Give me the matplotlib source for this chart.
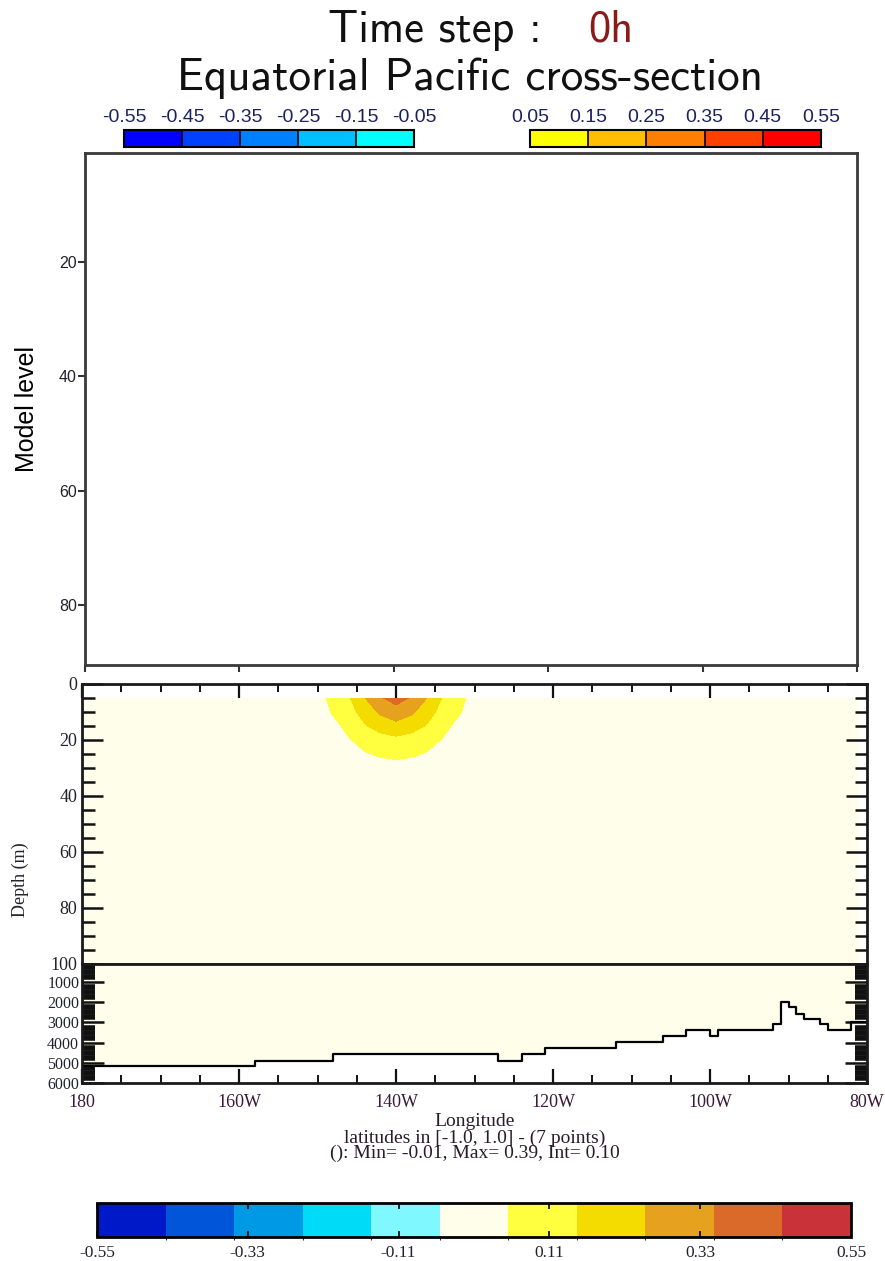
import numpy as np
import matplotlib
matplotlib.use("Agg")
import matplotlib.pyplot as plt
import matplotlib.transforms as mtransforms
from matplotlib.colors import ListedColormap, BoundaryNorm
from matplotlib.cm import ScalarMappable
from matplotlib.ticker import MultipleLocator, FixedLocator

# shading levels (Int = 0.10) and palette
levels = [-0.55, -0.45, -0.35, -0.25, -0.15, -0.05, 0.05, 0.15, 0.25, 0.35, 0.45, 0.55]
field_colors = ["#0019c8", "#0055d8", "#0099e6", "#00dcf8", "#80f8ff", "#fffeea",
                "#ffff40", "#f5dc00", "#e6a21e", "#da6a2a", "#c83238"]
cbar_ticks = [-0.55, -0.33, -0.11, 0.11, 0.33, 0.55]

# atmosphere key bars
neg_bounds = [-0.55, -0.45, -0.35, -0.25, -0.15, -0.05]
neg_colors = ["#0000ff", "#0040ff", "#0080ff", "#00bfff", "#00ffff"]
pos_bounds = [0.05, 0.15, 0.25, 0.35, 0.45, 0.55]
pos_colors = ["#ffff00", "#ffbf00", "#ff8000", "#ff4000", "#ff0000"]

# longitudes in degrees east (180 -> 80W = 280)
lon_ticks = [180, 200, 220, 240, 260, 280]
lon_labels = ["180", "160W", "140W", "120W", "100W", "80W"]
data_east = 279
first_level = 5

# warm anomaly near 140W, upper ocean
blob_lon = [210, 212, 214, 216, 218, 220, 222, 224, 226, 228, 230]
blob_depth = [5, 10, 15, 20, 25, 30]
blob_val = [
    [0.020, 0.073, 0.140, 0.245, 0.340, 0.390, 0.340, 0.245, 0.140, 0.073, 0.020],
    [0.016, 0.057, 0.110, 0.190, 0.265, 0.305, 0.265, 0.190, 0.110, 0.057, 0.016],
    [0.010, 0.030, 0.070, 0.140, 0.190, 0.220, 0.190, 0.140, 0.070, 0.030, 0.010],
    [0.005, 0.020, 0.044, 0.077, 0.107, 0.123, 0.107, 0.077, 0.044, 0.020, 0.005],
    [0.000, 0.010, 0.025, 0.043, 0.060, 0.069, 0.060, 0.043, 0.025, 0.010, 0.000],
    [-0.010, 0.000, 0.007, 0.013, 0.017, 0.020, 0.017, 0.013, 0.007, 0.000, -0.010],
]

# ocean floor along the equator (step edges, depth in m)
topo_lon = [180, 202, 212, 233, 236, 239, 248, 254, 257, 260, 261, 268, 269, 270,
            271, 272, 274, 275, 278, 280]
topo_depth = [5150, 4890, 4580, 4900, 4570, 4240, 3960, 3670, 3390, 3670, 3390, 3070,
              1980, 2250, 2580, 2820, 3070, 3390, 2990, 2990]
deep_ticks = [1000, 2000, 3000, 4000, 5000, 6000]

W, H = 885, 1261
fig = plt.figure(figsize=(W / 100, H / 100), dpi=100)


def box(x0, y0, x1, y1):
    # pixel box (top-left origin) -> figure fraction rect
    return [x0 / W, 1 - y1 / H, (x1 - x0) / W, (y1 - y0) / H]


serif = "Liberation Serif"
sans = "Liberation Sans"
tick_col = "#22222e"

# ---- titles
fig.text(435 / W, 1 - 42 / H, "Time step :", family="cmss10", fontsize=32,
         ha="center", va="baseline", color="#111111")
fig.text(611 / W, 1 - 42 / H, "0h", family="cmss10", fontsize=32,
         ha="center", va="baseline", color="#8b1a1a")
fig.text(470 / W, 1 - 90 / H, "Equatorial Pacific cross-section", family="cmss10",
         fontsize=32.5, ha="center", va="baseline", color="#111111")

# ---- small key bars above the atmosphere panel
for bounds, cols, x0, x1 in [(neg_bounds, neg_colors, 124, 414),
                             (pos_bounds, pos_colors, 530, 821)]:
    cax = fig.add_axes(box(x0, 130, x1, 147))
    sm = ScalarMappable(norm=BoundaryNorm(bounds, len(cols)), cmap=ListedColormap(cols))
    cb = fig.colorbar(sm, cax=cax, orientation="horizontal", ticks=bounds, drawedges=True)
    cb.outline.set_linewidth(1.5)
    cb.dividers.set_linewidth(1.2)
    cax.xaxis.set_ticks_position("top")
    cax.set_xticklabels(["%.2f" % b for b in bounds], family=sans, fontsize=14,
                        color="#1c2260")
    cax.tick_params(length=0, pad=3)

# ---- atmosphere panel (empty)
ax0 = fig.add_axes(box(85, 153, 857, 665))
ax0.set_xlim(180, 280)
ax0.set_ylim(90.5, 1)
ax0.set_yticks([20, 40, 60, 80])
ax0.set_yticklabels(["20", "40", "60", "80"], family=sans, fontsize=11.5, color=tick_col)
ax0.set_xticks(lon_ticks)
ax0.set_xticklabels([])
ax0.tick_params(direction="out", length=5, width=1.5, color="#333333", pad=1)
for s in ax0.spines.values():
    s.set_linewidth(2)
    s.set_color("#3a3a3a")
ax0.set_ylabel("Model level", family=sans, fontsize=18, labelpad=14)

# ---- ocean: upper 100 m
ax1 = fig.add_axes(box(82, 684, 867, 964))
ax1.set_xlim(180, 280)
ax1.set_ylim(100, 0)
ax1.fill_between([180, data_east], first_level, 100, color=field_colors[5], lw=0)
ax1.contourf(blob_lon, blob_depth, blob_val, levels=levels, colors=field_colors)
ax1.yaxis.set_major_locator(MultipleLocator(20))
ax1.yaxis.set_minor_locator(MultipleLocator(5))
ax1.xaxis.set_major_locator(FixedLocator(lon_ticks))
ax1.xaxis.set_minor_locator(MultipleLocator(5))
ax1.tick_params(which="both", direction="in", left=True, right=True, top=True,
                bottom=False, labelbottom=False, color="#111111")
ax1.tick_params(axis="y", which="major", length=15, width=1.8)
ax1.tick_params(axis="y", which="minor", length=9, width=1.8)
ax1.tick_params(axis="x", which="major", length=10, width=1.6)
ax1.tick_params(axis="x", which="minor", length=6, width=1.4)
ax1.set_yticks([0, 20, 40, 60, 80, 100])
ax1.set_yticklabels(["0", "20", "40", "60", "80", "100"], family=serif, fontsize=13,
                    color=tick_col)
ax1.set_ylabel("Depth (m)", family=serif, fontsize=13, color=tick_col)
ax1.yaxis.set_label_coords(-0.068, 0.3)
for s in ax1.spines.values():
    s.set_linewidth(2)
    s.set_color("#1a1a1a")

# ---- ocean: 100 m to the floor
ax2 = fig.add_axes(box(82, 964, 867, 1083))
ax2.set_xlim(180, 280)
ax2.set_ylim(6000, 100)
lon_c = np.clip(topo_lon, 180, data_east)
ax2.fill_between(lon_c, 100, topo_depth, step="post", color=field_colors[5], lw=0)
ax2.step(topo_lon, topo_depth, where="post", color="black", lw=1.6)
ax2.set_yticks(deep_ticks)
ax2.set_yticklabels([str(d) for d in deep_ticks], family=serif, fontsize=11.5,
                    color=tick_col)
# keep the bottom label inside the frame height
lift = mtransforms.ScaledTranslation(0, 4 / 100, fig.dpi_scale_trans)
last = ax2.get_yticklabels()[-1]
last.set_transform(last.get_transform() + lift)
ax2.yaxis.set_minor_locator(MultipleLocator(250))
ax2.xaxis.set_major_locator(FixedLocator(lon_ticks))
ax2.xaxis.set_minor_locator(MultipleLocator(5))
ax2.tick_params(which="both", direction="in", left=True, right=True, top=False,
                bottom=True, color="#111111")
ax2.tick_params(axis="y", which="major", length=16, width=1.8, pad=2)
ax2.tick_params(axis="y", which="minor", length=9, width=4)
ax2.tick_params(axis="x", which="major", length=10, width=1.6, pad=8)
ax2.tick_params(axis="x", which="minor", length=6, width=1.4)
ax2.set_xticklabels(lon_labels, family=serif, fontsize=13, color="#3a1a3a")
for s in ax2.spines.values():
    s.set_linewidth(2)
    s.set_color("#1a1a1a")

fig.text(475 / W, 1 - 1122 / H, "Longitude", family=serif, fontsize=14,
         ha="center", va="center", color="#2a1a2a")
fig.text(475 / W, 1 - 1138 / H, "latitudes in [-1.0, 1.0] - (7 points)", family=serif,
         fontsize=14, ha="center", va="center", color="#2a1a2a")
fig.text(475 / W, 1 - 1153 / H, "(): Min= -0.01, Max= 0.39, Int= 0.10", family=serif,
         fontsize=14, ha="center", va="center", color="#2a1a2a")

# ---- shading key
cax = fig.add_axes(box(97, 1203, 851, 1237))
sm = ScalarMappable(norm=BoundaryNorm(levels, len(field_colors)),
                    cmap=ListedColormap(field_colors))
cb = fig.colorbar(sm, cax=cax, orientation="horizontal", ticks=cbar_ticks)
cb.outline.set_linewidth(2)
cax.set_xticklabels(["%.2f" % t for t in cbar_ticks], family=serif, fontsize=12.5,
                    color=tick_col)
cax.tick_params(direction="in", top=True, bottom=True, length=4, width=1.2, pad=6)

fig.savefig("out.png", dpi=100)
